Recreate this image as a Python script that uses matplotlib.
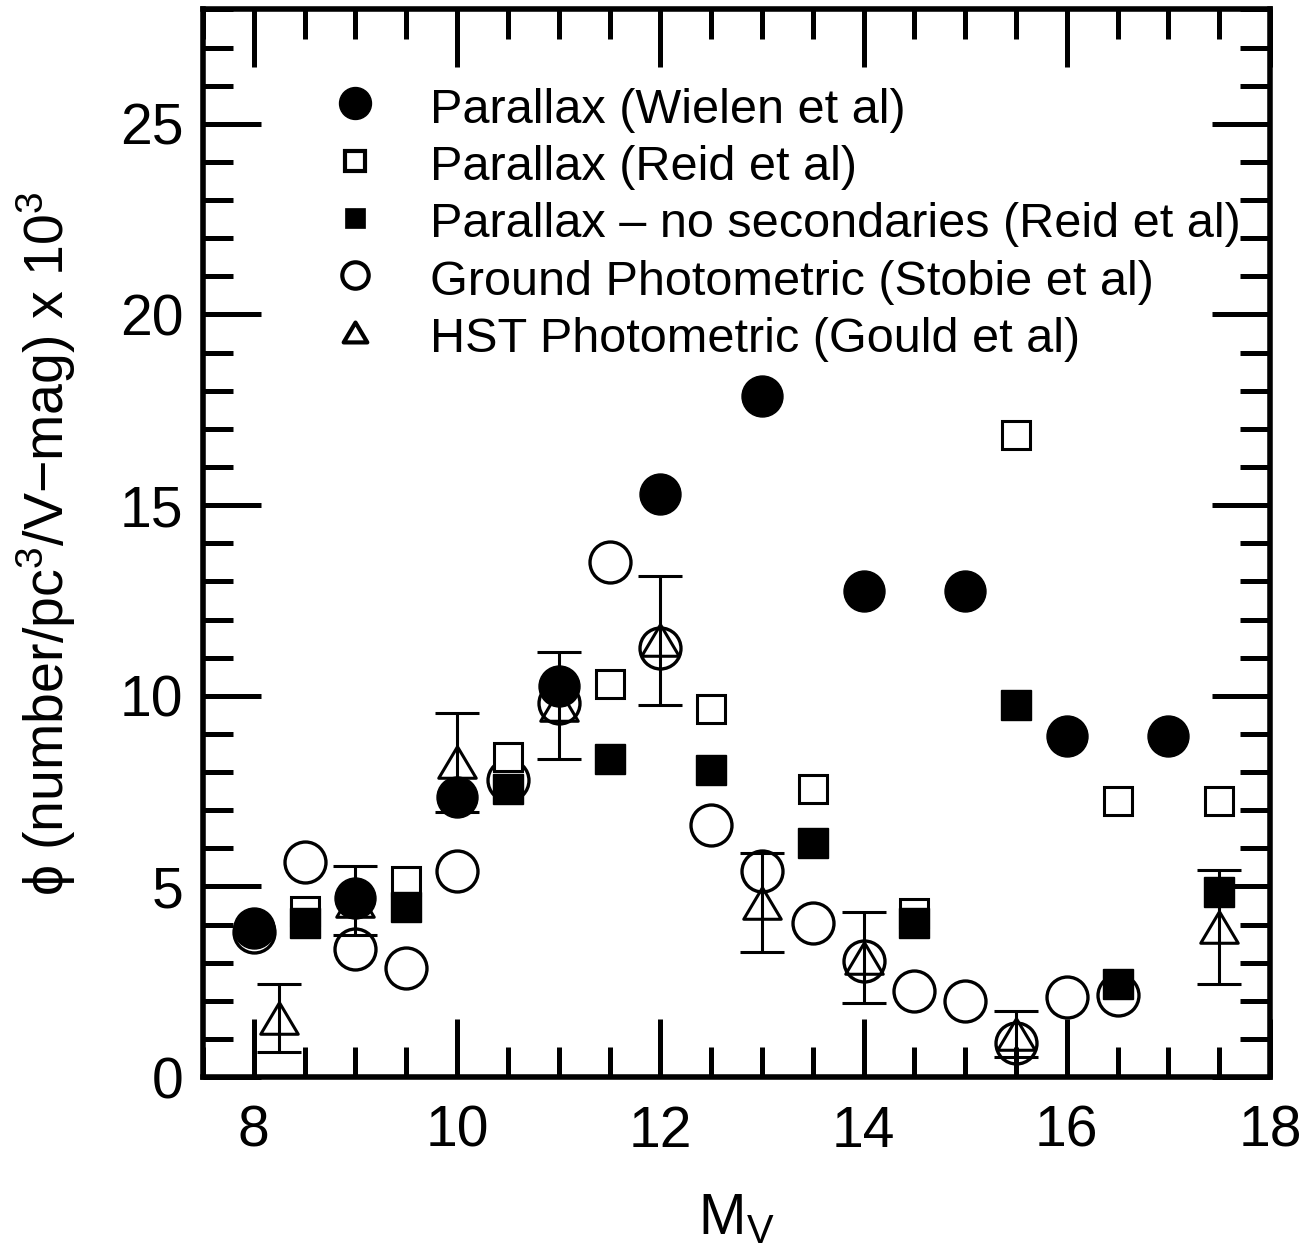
import matplotlib.pyplot as plt
from matplotlib.ticker import MultipleLocator
from matplotlib.path import Path

plt.rcParams['font.family'] = ['Liberation Sans', 'DejaVu Sans']
plt.rcParams['mathtext.fontset'] = 'custom'
plt.rcParams['mathtext.rm'] = 'Liberation Sans'
plt.rcParams['mathtext.it'] = 'Liberation Sans:italic'

# Parallax (Wielen et al)
mv_wielen = [8, 9, 10, 11, 12, 13, 14, 15, 16, 17]
phi_wielen = [3.9, 4.7, 7.35, 10.25, 15.3, 17.85, 12.75, 12.75, 8.95, 8.95]

# Parallax (Reid et al), with and without secondaries
mv_reid = [8.5, 9.5, 10.5, 11.5, 12.5, 13.5, 14.5, 15.5, 16.5, 17.5]
phi_reid = [4.35, 5.15, 8.4, 10.3, 9.65, 7.55, 4.3, 16.85, 7.25, 7.25]
phi_reid_nosec = [4.05, 4.45, 7.55, 8.35, 8.05, 6.15, 4.05, 9.75, 2.45, 4.85]

# Ground photometric (Stobie et al)
mv_stobie = [8, 8.5, 9, 9.5, 10, 10.5, 11, 11.5, 12, 12.5, 13, 13.5, 14, 14.5,
             15, 15.5, 16, 16.5]
phi_stobie = [3.8, 5.65, 3.35, 2.85, 5.4, 7.8, 9.8, 13.5, 11.25, 6.6, 5.4,
              4.05, 3.05, 2.25, 2.0, 0.9, 2.1, 2.15]

# HST photometric (Gould et al)
mv_hst = [8.25, 9, 10, 11, 12, 13, 14, 15.5, 17.5]
phi_hst = [1.55, 4.63, 8.25, 9.75, 11.45, 4.57, 3.13, 1.13, 3.94]
err_hst = [0.9, 0.9, 1.3, 1.4, 1.7, 1.3, 1.2, 0.6, 1.5]

labels = ['Parallax (Wielen et al)',
          'Parallax (Reid et al)',
          'Parallax \u2013 no secondaries (Reid et al)',
          'Ground Photometric (Stobie et al)',
          'HST Photometric (Gould et al)']

tri = Path([(-1.19, -1), (1.19, -1), (0, 1), (-1.19, -1)],
           [Path.MOVETO, Path.LINETO, Path.LINETO, Path.CLOSEPOLY])

fig = plt.figure(figsize=(13.15, 12.47), dpi=100)
ax = fig.add_axes([0.1544, 0.1363, 0.8114, 0.8561])

ax.errorbar(mv_hst, phi_hst, yerr=err_hst, fmt='none', ecolor='black',
            elinewidth=2.2, capsize=16, capthick=2.2, zorder=2)
ax.plot(mv_hst, phi_hst, ls='none', marker=tri, ms=27, mfc='none',
        mec='black', mew=2.2, zorder=3)
ax.plot(mv_stobie, phi_stobie, ls='none', marker='o', ms=29.5, mfc='none',
        mec='black', mew=2.4, zorder=4)
ax.plot(mv_reid, phi_reid, ls='none', marker='s', ms=20.5, mfc='white',
        mec='black', mew=2.2, zorder=5)
ax.plot(mv_reid, phi_reid_nosec, ls='none', marker='s', ms=21, mfc='black',
        mec='black', mew=1.0, zorder=6)
ax.plot(mv_wielen, phi_wielen, ls='none', marker='o', ms=29.5, mfc='black',
        mec='black', mew=1.0, zorder=7)

# legend drawn by hand
leg_style = [dict(marker='o', ms=23, mfc='black', mec='black', mew=1),
             dict(marker='s', ms=14, mfc='none', mec='black', mew=3),
             dict(marker='s', ms=15, mfc='black', mec='black', mew=0.5),
             dict(marker='o', ms=19, mfc='none', mec='black', mew=3),
             dict(marker=tri, ms=17, mfc='none', mec='black', mew=3)]
for i, (st, lab) in enumerate(zip(leg_style, labels)):
    yy = 0.912 - i * 0.0535
    ax.plot([0.1425], [yy], ls='none', transform=ax.transAxes, clip_on=False, **st)
    ax.text(0.213, yy - 0.0185, lab, transform=ax.transAxes, fontsize=35,
            va='baseline', ha='left')

ax.set_xlim(7.5, 18)
ax.set_ylim(0, 28)
ax.xaxis.set_major_locator(MultipleLocator(2))
ax.xaxis.set_minor_locator(MultipleLocator(0.5))
ax.yaxis.set_major_locator(MultipleLocator(5))
ax.yaxis.set_minor_locator(MultipleLocator(1))
ax.tick_params(which='both', direction='in', top=True, right=True,
               width=3.6, labelsize=41)
ax.tick_params(which='major', length=42)
ax.tick_params(which='minor', length=21.5)
ax.tick_params(axis='x', which='major', pad=20)
ax.tick_params(axis='y', which='major', pad=14)
for sp in ax.spines.values():
    sp.set_linewidth(4)

ax.set_xlabel(r'M$_\mathregular{V}$', fontsize=41, labelpad=24)
ax.set_ylabel('\u03d5 (number/pc$^\\mathregular{3}$/V\u2212mag) x 10$^\\mathregular{3}$',
              fontsize=40, labelpad=30)

fig.savefig('out.png', dpi=100)
